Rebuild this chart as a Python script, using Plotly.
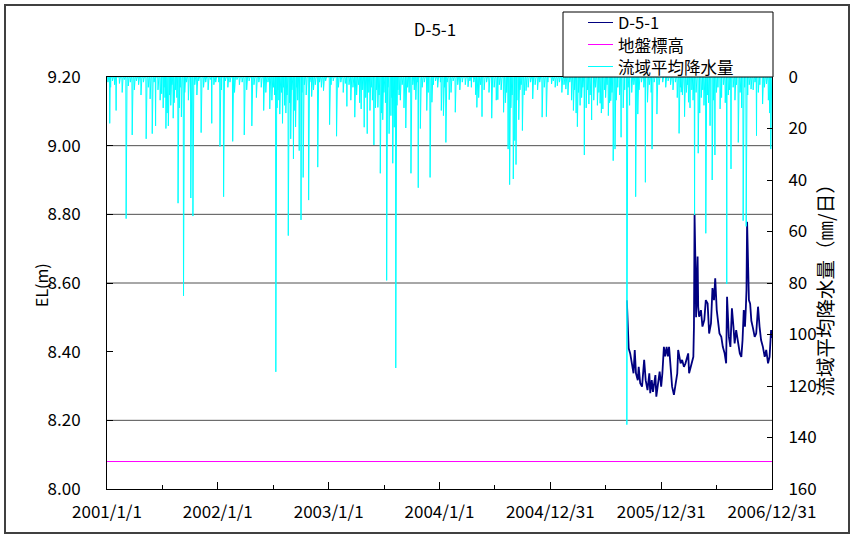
import numpy as np
import pandas as pd
import plotly.graph_objects as go

START = "2001-01-01"
END = "2006-12-31"

# ---- daily basin-average rainfall: day index (days since 2001-01-01) and mm/day ----
rain_day = [
    9, 30, 63, 83, 129, 149, 160, 194, 202, 221, 234, 245, 252, 276, 283, 310, 345,
    372, 384, 414, 452, 477, 516, 536, 556, 569, 597, 614, 621, 633, 639, 646, 664, 674, 694, 713,
    733, 756, 790, 816, 837, 847, 857, 879, 892, 900, 908, 921, 929, 941, 946, 951, 966, 984,
    1001, 1017, 1025, 1032, 1053, 1064, 1070,
    1101, 1108, 1116, 1127, 1147, 1189, 1214, 1218, 1235, 1267, 1287, 1306, 1321, 1326, 1338,
    1343, 1347, 1356, 1368, 1380, 1402, 1433, 1447,
    1464, 1483, 1511, 1536, 1549, 1558, 1572, 1587, 1596, 1624, 1633, 1651, 1659, 1667, 1673,
    1693, 1712, 1721, 1741, 1748, 1773, 1780, 1795, 1811,
    1884, 1891, 1902, 1915, 1935, 1947, 1972, 1986, 1993, 2002, 2019, 2041, 2055, 2079, 2095,
    2105, 2121, 2139, 2159, 2172, 2186,
    # smaller daily amounts
    3, 12, 18, 25, 41, 50, 57, 70, 77, 90, 97, 104, 112, 120, 136, 142, 155, 168, 175, 180,
    185, 188, 191, 198, 206, 210, 214, 218, 226, 230, 238, 241, 256, 262, 268, 289, 296, 302,
    318, 325, 333, 340, 352, 358,
    368, 377, 390, 398, 405, 420, 428, 436, 445, 460, 468, 484, 492, 500, 508, 523, 530, 543,
    548, 552, 560, 563, 566, 575, 578, 581, 585, 589, 593, 601, 605, 609, 617, 625, 628, 642,
    650, 656, 668, 680, 686, 700, 706, 720,
    738, 745, 762, 770, 778, 785, 797, 803, 810, 822, 828, 832, 842, 852, 862, 866, 870, 874,
    884, 888, 896, 904, 912, 917, 925, 935, 938, 955, 958, 962, 972, 978, 990, 995, 1007, 1012,
    1022, 1038, 1045, 1058, 1075, 1082, 1089,
    1098, 1112, 1120, 1133, 1140, 1155, 1162, 1170, 1180, 1195, 1200, 1208, 1224, 1230, 1242,
    1250, 1258, 1275, 1282, 1292, 1298, 1312, 1316, 1330, 1334, 1350, 1360, 1364, 1374, 1387,
    1395, 1410, 1418, 1425, 1440, 1452,
    1470, 1476, 1490, 1498, 1505, 1518, 1524, 1530, 1540, 1545, 1553, 1563, 1567, 1578, 1582,
    1591, 1603, 1609, 1615, 1620, 1628, 1638, 1642, 1647, 1655, 1663, 1677, 1682, 1688, 1700,
    1705, 1716, 1728, 1735, 1752, 1760, 1768, 1786, 1792, 1802, 1818,
    1830, 1840, 1848, 1856, 1864, 1872, 1878, 1888, 1895, 1908, 1912, 1920, 1926, 1930, 1940,
    1952, 1957, 1962, 1966, 1977, 1981, 1997, 2007, 2012, 2024, 2030, 2036, 2046, 2050, 2062,
    2068, 2073, 2085, 2090, 2100, 2110, 2115, 2128, 2134, 2145, 2150, 2165, 2178, 2182,
]
rain_mm = [
    18, 13, 55, 22.5, 24, 22, 19, 20, 19, 10, 49, 15.5, 85, 47, 54, 21.6, 18,
    27, 46.5, 25, 22.5, 19, 13, 12.4, 114.5, 14.4, 61.6, 31.8, 19.4, 28.6, 55.5, 39, 47.8, 7.6, 35, 5.3,
    18.5, 23, 11.4, 15.6, 12.4, 19.5, 22, 26.4, 11.8, 37.4, 16.6, 79, 22, 33.5, 19.5, 113, 9, 19.8,
    37.4, 8.8, 43, 20, 13, 39, 9.8,
    13, 15, 25.4, 8.8, 13.7, 3.8, 6.9, 11.8, 15.4, 16, 8.8, 13.7, 28, 41.8, 39.6,
    24.7, 34, 16.6, 20.8, 5.3, 8.5, 15.6, 15.4,
    2.7, 3.4, 4.7, 13, 19.3, 11, 30.3, 10.5, 16.7, 10.2, 12.4, 15, 9.2, 32.5, 28,
    23.4, 135, 11, 46.5, 14.4, 40.9, 9.8, 28, 14.4,
    21.9, 5.9, 15.4, 9.8, 53.6, 29.6, 60.7, 18.9, 40, 30.3, 12.4, 80.4, 35.7, 25.4, 55.8,
    58, 4.7, 22.8, 10.5, 2.7, 28,
    2, 4, 1.5, 3, 2.5, 6, 1, 3.5, 2, 5, 1.5, 3, 7, 2, 4, 8.5, 2, 5, 9, 6.5,
    12, 4, 8, 14, 7, 11, 3, 16, 5, 8, 12, 4, 6, 2, 9, 3, 7, 1.5,
    4, 2, 5, 1, 3, 2,
    2, 5, 1.5, 4, 2, 6, 1, 3, 2, 5, 1.5, 3, 8, 2, 4, 6, 2, 9,
    4, 7, 12, 5, 9, 6, 18, 4, 11, 14, 7, 10, 24, 5, 13, 4, 9, 6,
    3, 7, 2, 5, 3, 2, 4, 1.5,
    3, 1.5, 4, 2, 6, 2.5, 3, 9, 4, 7, 3, 10, 5, 8, 6, 13, 4, 9,
    12, 5, 7, 14, 6, 10, 4, 15, 8, 11, 5, 7, 3, 12, 4, 6, 3, 5,
    2, 4, 2, 6, 3, 1.5, 4,
    2, 4, 2, 6, 1.5, 3, 5, 2, 3, 1.5, 4, 2, 8, 3, 5,
    2, 6, 4, 9, 3, 5, 10, 6, 12, 7, 9, 5, 3, 7, 4,
    2, 3, 5, 2, 4, 2,
    1.5, 4, 2, 6, 3, 7, 2, 9, 5, 14, 6, 8, 4, 12, 5,
    7, 9, 4, 11, 6, 14, 5, 8, 3, 10, 6, 9, 4, 7, 12,
    5, 4, 6, 3, 5, 2, 4, 3, 6, 2, 3,
    2, 4, 1.5, 3, 5, 2, 8, 4, 7, 6, 3, 12, 5, 9, 6,
    14, 8, 5, 11, 7, 10, 9, 6, 4, 8, 3, 10, 7, 5, 4,
    9, 3, 6, 12, 4, 7, 3, 5, 2, 6, 3, 4, 9, 14,
]

# ---- groundwater level D-5-1: day index (days since 2001-01-01) and EL (m) ----
gw_day = [
    1712, 1714, 1716, 1718, 1723, 1729, 1734, 1738, 1742, 1748, 1751, 1756, 1762, 1769, 1774,
    1780, 1786, 1789, 1794, 1798, 1806, 1809, 1814, 1820, 1825, 1829, 1834, 1838, 1843, 1847,
    1851, 1856, 1861, 1867, 1872, 1878, 1881, 1885, 1889, 1894, 1900, 1905, 1911, 1914, 1917,
    1922, 1927, 1931, 1933, 1935, 1938, 1940, 1942, 1945, 1947, 1950, 1956, 1961, 1967, 1972,
    1978, 1983, 1989, 1994, 1999, 2003, 2008, 2011, 2017, 2023, 2028, 2034, 2039, 2042, 2045,
    2048, 2053, 2058, 2063, 2067, 2072, 2078, 2084, 2089, 2093, 2097, 2101, 2104, 2106, 2108,
    2111, 2114, 2118, 2122, 2127, 2133, 2138, 2144, 2149, 2154, 2160, 2166, 2171, 2177, 2182,
    2184, 2187, 2190,
]
gw_level = [
    8.55, 8.50, 8.43, 8.41, 8.395, 8.356, 8.337, 8.405, 8.337, 8.317, 8.356, 8.308, 8.298, 8.376, 8.317,
    8.288, 8.337, 8.279, 8.317, 8.283, 8.332, 8.269, 8.308, 8.342, 8.298, 8.337, 8.414, 8.386, 8.414, 8.386,
    8.414, 8.337, 8.298, 8.274, 8.308, 8.337, 8.405, 8.385, 8.366, 8.376, 8.356, 8.366, 8.385, 8.395, 8.337,
    8.356, 8.366, 8.385, 8.473, 8.798, 8.648, 8.50, 8.57, 8.677, 8.53, 8.502, 8.521, 8.473, 8.492, 8.55,
    8.54, 8.453, 8.482, 8.585, 8.55, 8.614, 8.521, 8.492, 8.453, 8.443, 8.414, 8.395, 8.366, 8.56, 8.50,
    8.443, 8.414, 8.526, 8.473, 8.424, 8.463, 8.434, 8.395, 8.385, 8.434, 8.521, 8.473, 8.53, 8.58, 8.778,
    8.60, 8.55, 8.54, 8.49, 8.47, 8.443, 8.453, 8.531, 8.473, 8.434, 8.414, 8.385, 8.405, 8.366, 8.385,
    8.42, 8.463, 8.44,
]

ground_level = 8.08  # 地盤標高

series_names = ["D-5-1", "地盤標高", "流域平均降水量"]
series_colors = ["#000080", "#FF00FF", "#00FFFF"]

y_ticks = [8.0, 8.2, 8.4, 8.6, 8.8, 9.0, 9.2]
grid_levels = [9.0, 8.8, 8.6, 8.2]
x_tick_labels = ["2001/1/1", "2002/1/1", "2003/1/1", "2004/1/1",
                 "2004/12/31", "2005/12/31", "2006/12/31"]

# ---- build series ----
start = pd.Timestamp(START)
all_days = pd.date_range(START, END, freq="D")
rain = np.zeros(len(all_days))
for d, v in zip(rain_day, rain_mm):
    rain[d] = max(rain[d], v)

gw_dates = [start + pd.Timedelta(days=d) for d in gw_day]
x_tick_vals = [start + pd.Timedelta(days=365 * i) for i in range(len(x_tick_labels))]
minor_vals = [start + pd.Timedelta(days=365 * i + 182.5) for i in range(len(x_tick_labels) - 1)]

FONT = "Noto Sans CJK JP"

fig = go.Figure()
fig.add_trace(go.Scatter(x=gw_dates, y=gw_level, mode="lines", name=series_names[0],
                         line=dict(color=series_colors[0], width=1.8)))
fig.add_trace(go.Scatter(x=[all_days[0], all_days[-1]], y=[ground_level, ground_level],
                         mode="lines", name=series_names[1],
                         line=dict(color=series_colors[1], width=1)))
fig.add_trace(go.Scatter(x=all_days, y=rain, mode="lines", name=series_names[2],
                         line=dict(color=series_colors[2], width=1), yaxis="y2"))

# plot-area pixel geometry
L, R, T, B = 107, 772, 77, 489
W, H = 854, 537
pw, ph = R - L, B - T

def px(xp):
    return (xp - L) / pw

def py(yp):
    return (B - yp) / ph

shapes = [dict(type="line", xref="paper", yref="y", x0=0, x1=1, y0=g, y1=g,
               line=dict(color="#505050", width=1), layer="below") for g in grid_levels]
# outer chart frame
shapes.append(dict(type="rect", xref="paper", yref="paper",
                   x0=px(5), x1=px(849), y0=py(533), y1=py(5),
                   line=dict(color="#404040", width=2), fillcolor="rgba(0,0,0,0)"))
# legend box (Excel-style)
shapes.append(dict(type="rect", xref="paper", yref="paper",
                   x0=px(563), x1=px(773), y0=py(77), y1=py(12),
                   line=dict(color="black", width=1), fillcolor="white", layer="above"))
legend_rows = [22.5, 44.5, 66.5]
annotations = []
for name, color, yr in zip(series_names, series_colors, legend_rows):
    shapes.append(dict(type="line", xref="paper", yref="paper",
                       x0=px(588), x1=px(613), y0=py(yr), y1=py(yr),
                       line=dict(color=color, width=1), layer="above"))
    annotations.append(dict(text=name, xref="paper", yref="paper", x=px(617), y=py(yr),
                            xanchor="left", yanchor="middle", showarrow=False, borderpad=0,
                            font=dict(size=16.5, family=FONT, color="black")))

annotations += [
    dict(text="EL(m)", xref="paper", yref="paper", x=px(27), y=py(285),
         textangle=-90, showarrow=False, font=dict(size=16)),
    dict(text="流域平均降水量（㎜/日）", xref="paper", yref="paper", x=px(840), y=py(285),
         textangle=-90, showarrow=False, font=dict(size=19.5)),
]

fig.update_layout(
    width=W, height=H, autosize=False,
    margin=dict(l=L, r=W - R, t=T, b=H - B, autoexpand=False),
    paper_bgcolor="white", plot_bgcolor="white",
    font=dict(family=FONT, size=17, color="black"),
    title=dict(text="D-5-1", x=435 / W, y=1 - 30 / H, xanchor="center", yanchor="middle",
               font=dict(family=FONT, size=17, color="black")),
    xaxis=dict(type="date", range=[all_days[0], all_days[-1]],
               tickmode="array", tickvals=x_tick_vals, ticktext=x_tick_labels,
               ticks="inside", ticklen=7, tickcolor="black",
               minor=dict(tickmode="array", tickvals=minor_vals, ticks="inside",
                          ticklen=4, tickcolor="black"),
               showline=True, linecolor="black", linewidth=1, mirror=True,
               showgrid=False, zeroline=False, ticklabelstandoff=8,
               tickfont=dict(size=17)),
    yaxis=dict(range=[8.0, 9.2], tickmode="array", tickvals=y_ticks, tickformat=".2f",
               ticks="inside", ticklen=6, tickcolor="black",
               showline=True, linecolor="black", linewidth=1,
               showgrid=False, zeroline=False, ticklabelstandoff=22,
               tickfont=dict(size=17)),
    yaxis2=dict(range=[160, 0], overlaying="y", side="right", tick0=0, dtick=20,
                ticks="inside", ticklen=5, tickcolor="black",
                showline=True, linecolor="black", linewidth=1,
                showgrid=False, zeroline=False, ticklabelstandoff=12,
                tickfont=dict(size=17)),
    showlegend=False,
    shapes=shapes,
    annotations=annotations,
)

# remove the browser's default page margin so the figure sits at the window origin
fig.write_html("out.html", config={"displayModeBar": False},
               post_script="document.body.style.margin='0px';")
